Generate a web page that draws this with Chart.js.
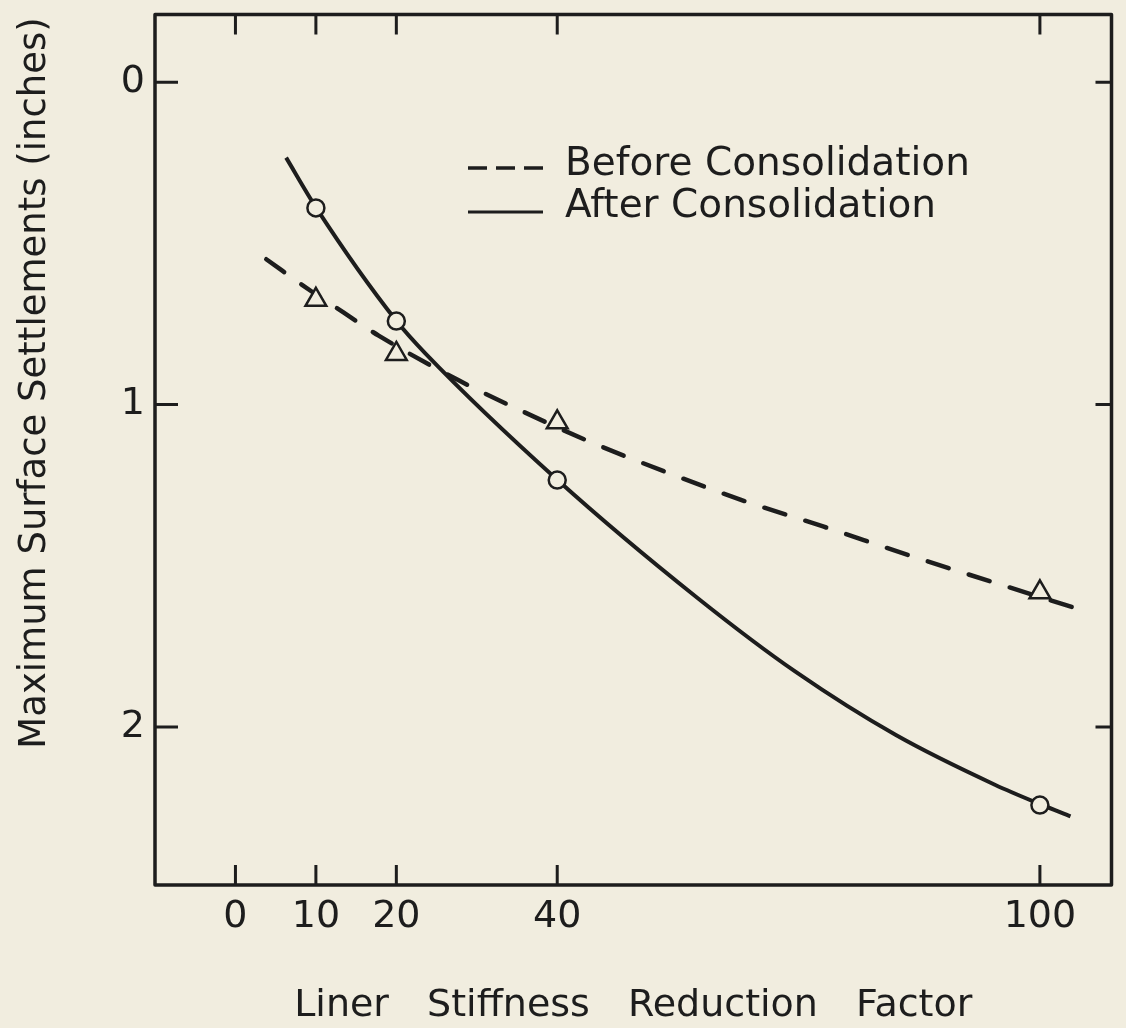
<!DOCTYPE html>
<html>
<head>
<meta charset="utf-8">
<title>Maximum Surface Settlements</title>
<script src="https://cdn.jsdelivr.net/npm/chart.js@4.4.1/dist/chart.umd.min.js"></script>
<style>
  html, body { margin: 0; padding: 0; background: #f1eddf; }
  canvas { display: block; }
</style>
</head>
<body>
<canvas id="settlementChart" width="1126" height="1028"></canvas>
<script>
// tick values
const xTickValues = [0, 10, 20, 40, 100];
const yTickValues = [0, 1, 2];

// computed settlements (inches) at each liner stiffness reduction factor
const factors = [10, 20, 40, 100];
const beforeValues = [0.675, 0.843, 1.055, 1.582];
const afterValues = [0.39, 0.741, 1.234, 2.242];

// faired curves through the results
const beforeCurveX = [3.83, 9.52, 13.47, 17.8, 27.69, 35.35, 44.13, 53.4, 62.67, 73.05, 83.68, 94.44, 105.07];
const beforeCurveY = [0.549, 0.65, 0.715, 0.786, 0.924, 1.017, 1.116, 1.208, 1.294, 1.378, 1.467, 1.553, 1.636];
const afterCurveX = [6.3, 10, 20, 23.6, 40, 57.4, 69.7, 82.1, 94.4, 100.1, 103.8];
const afterCurveY = [0.234, 0.388, 0.74, 0.841, 1.233, 1.599, 1.83, 2.025, 2.179, 2.24, 2.277];

const seriesLabels = ['Before Consolidation', 'After Consolidation'];
const xTitle = 'Liner Stiffness Reduction Factor';
const yTitle = 'Maximum Surface Settlements (inches)';

const ink = '#1d1d1d';
const paper = '#f1eddf';
const fontFamily = "'DejaVu Sans', sans-serif";

function pairs(xs, ys) {
    return xs.map((x, i) => ({ x: x, y: ys[i] }));
}

// frame, inward ticks, axis titles and the key
const framePlugin = {
    id: 'frame',
    beforeDraw(chart) {
        const c = chart.ctx;
        c.save();
        c.fillStyle = paper;
        c.fillRect(0, 0, chart.width, chart.height);
        c.restore();
    },
    afterDraw(chart) {
        const c = chart.ctx;
        const area = chart.chartArea;
        const xs = chart.scales.x;
        const ys = chart.scales.y;
        c.save();
        c.strokeStyle = ink;
        c.lineWidth = 3.5;
        c.lineJoin = 'round';
        c.strokeRect(area.left, area.top, area.right - area.left, area.bottom - area.top);

        c.lineWidth = 3;
        c.beginPath();
        xTickValues.forEach(v => {
            const px = xs.getPixelForValue(v);
            c.moveTo(px, area.bottom);
            c.lineTo(px, area.bottom - 20);
            c.moveTo(px, area.top);
            c.lineTo(px, area.top + 20);
        });
        yTickValues.forEach(v => {
            const py = ys.getPixelForValue(v);
            c.moveTo(area.left, py);
            c.lineTo(area.left + 23, py);
            c.moveTo(area.right, py);
            c.lineTo(area.right - 16, py);
        });
        c.stroke();

        // axis titles
        c.fillStyle = ink;
        c.font = '38px ' + fontFamily;
        c.textBaseline = 'middle';
        c.textAlign = 'center';
        if ('wordSpacing' in c) c.wordSpacing = '26px';
        c.fillText(xTitle, (area.left + area.right) / 2, 1006);
        if ('wordSpacing' in c) c.wordSpacing = '0px';

        c.save();
        c.translate(35, 383);
        c.rotate(-Math.PI / 2);
        c.font = '37px ' + fontFamily;
        c.fillText(yTitle, 0, 0);
        c.restore();

        // key
        c.lineWidth = 3.5;
        c.setLineDash([19, 9]);
        c.beginPath();
        c.moveTo(468, 168);
        c.lineTo(545, 168);
        c.stroke();
        c.setLineDash([]);
        c.lineWidth = 3;
        c.beginPath();
        c.moveTo(468, 212);
        c.lineTo(543, 212);
        c.stroke();

        c.font = '39px ' + fontFamily;
        c.textAlign = 'left';
        c.fillText(seriesLabels[0], 565, 165);
        c.fillText(seriesLabels[1], 565, 207);
        c.restore();
    }
};

const tickFont = { family: fontFamily, size: 38 };

new Chart(document.getElementById('settlementChart'), {
    type: 'scatter',
    data: {
        datasets: [
            {
                label: seriesLabels[1] + ' results',
                data: pairs(factors, afterValues),
                pointStyle: 'circle',
                pointRadius: 8.5,
                pointBorderWidth: 2.5,
                pointBackgroundColor: paper,
                pointBorderColor: ink,
                showLine: false,
                order: 0
            },
            {
                label: seriesLabels[0] + ' results',
                data: pairs(factors, beforeValues),
                pointStyle: 'triangle',
                pointRadius: 12,
                pointBorderWidth: 2.5,
                pointBackgroundColor: paper,
                pointBorderColor: ink,
                showLine: false,
                order: 0
            },
            {
                label: seriesLabels[1],
                data: pairs(afterCurveX, afterCurveY),
                showLine: true,
                borderColor: ink,
                borderWidth: 4,
                pointRadius: 0,
                cubicInterpolationMode: 'monotone',
                order: 1
            },
            {
                label: seriesLabels[0],
                data: pairs(beforeCurveX, beforeCurveY),
                showLine: true,
                borderColor: ink,
                borderWidth: 4.5,
                borderDash: [22, 21],
                borderCapStyle: 'round',
                pointRadius: 0,
                cubicInterpolationMode: 'monotone',
                order: 1
            }
        ]
    },
    options: {
        responsive: false,
        animation: false,
        devicePixelRatio: 1,
        layout: { padding: { top: 9, right: 9, bottom: 0, left: 0 } },
        plugins: {
            legend: { display: false },
            tooltip: { enabled: false }
        },
        scales: {
            x: {
                type: 'linear',
                min: -10,
                max: 108.9,
                afterBuildTicks: axis => { axis.ticks = xTickValues.map(v => ({ value: v })); },
                afterFit: axis => {
                    axis.height = 143;
                    axis.paddingLeft = 0;
                    axis.paddingRight = 0;
                },
                grid: { display: false, drawTicks: false },
                border: { display: false },
                ticks: { font: tickFont, color: ink, padding: 9, autoSkip: false, maxRotation: 0 }
            },
            y: {
                type: 'linear',
                reverse: true,
                min: -0.21,
                max: 2.49,
                afterBuildTicks: axis => { axis.ticks = yTickValues.map(v => ({ value: v })); },
                afterFit: axis => {
                    axis.width = 155;
                    axis.paddingTop = 0;
                    axis.paddingBottom = 0;
                },
                grid: { display: false, drawTicks: false },
                border: { display: false },
                ticks: { font: tickFont, color: ink, padding: 10, autoSkip: false }
            }
        }
    },
    plugins: [framePlugin]
});
</script>
</body>
</html>
